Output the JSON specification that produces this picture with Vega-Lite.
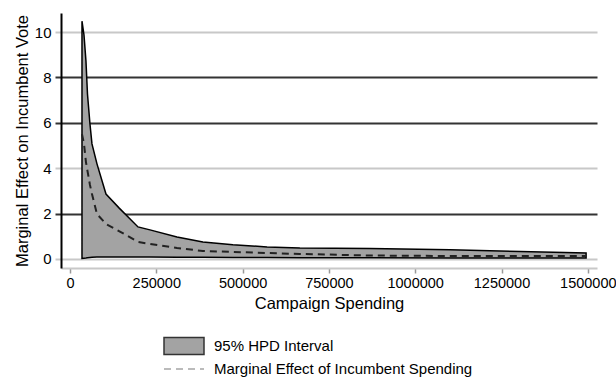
{
  "$schema": "https://vega.github.io/schema/vega-lite/v6.json",
  "width": 536,
  "height": 255,
  "autosize": {"type": "none"},
  "padding": {"left": 61, "top": 13, "right": 19, "bottom": 109},
  "background": "white",
  "config": {"view": {"stroke": null}, "font": "Liberation Sans"},
  "data": {
    "values": [
      {"s": 34800, "lo": 0.02, "me": 5.5, "hi": 10.48},
      {"s": 40600, "lo": 0.03, "me": 5.07, "hi": 9.87},
      {"s": 46300, "lo": 0.04, "me": 4.27, "hi": 8.72},
      {"s": 50700, "lo": 0.05, "me": 3.88, "hi": 7.27},
      {"s": 57900, "lo": 0.06, "me": 3.26, "hi": 5.95},
      {"s": 63700, "lo": 0.07, "me": 2.86, "hi": 5.07},
      {"s": 78200, "lo": 0.08, "me": 1.98, "hi": 4.19},
      {"s": 104300, "lo": 0.09, "me": 1.54, "hi": 2.86},
      {"s": 142000, "lo": 0.09, "me": 1.23, "hi": 2.25},
      {"s": 197000, "lo": 0.08, "me": 0.75, "hi": 1.41},
      {"s": 231700, "lo": 0.08, "me": 0.66, "hi": 1.28},
      {"s": 310000, "lo": 0.07, "me": 0.48, "hi": 0.97},
      {"s": 385000, "lo": 0.07, "me": 0.35, "hi": 0.75},
      {"s": 472000, "lo": 0.06, "me": 0.31, "hi": 0.62},
      {"s": 571000, "lo": 0.06, "me": 0.26, "hi": 0.53},
      {"s": 666000, "lo": 0.05, "me": 0.22, "hi": 0.48},
      {"s": 869000, "lo": 0.05, "me": 0.15, "hi": 0.46},
      {"s": 1101000, "lo": 0.04, "me": 0.13, "hi": 0.40},
      {"s": 1304000, "lo": 0.04, "me": 0.13, "hi": 0.33},
      {"s": 1495000, "lo": 0.04, "me": 0.13, "hi": 0.26}
    ]
  },
  "encoding": {
    "x": {
      "field": "s",
      "type": "quantitative",
      "scale": {"domain": [-26000, 1526600], "nice": false, "zero": false},
      "axis": {
        "title": "Campaign Spending",
        "values": [0, 250000, 500000, 750000, 1000000, 1250000, 1500000],
        "format": "d",
        "grid": false,
        "domainColor": "#c8c8c8",
        "domainWidth": 2,
        "tickColor": "#999",
        "tickSize": 5,
        "tickWidth": 1.5,
        "labelFontSize": 14.5,
        "labelPadding": 3,
        "labelColor": "#000",
        "labelFlush": false,
        "labelOverlap": false,
        "titleFontSize": 16.5,
        "titleFontWeight": "normal",
        "titleColor": "#000",
        "titlePadding": 6
      }
    }
  },
  "layer": [
    {
      "mark": {"type": "area", "stroke": "#000", "strokeWidth": 1.5},
      "encoding": {
        "y": {
          "field": "hi",
          "type": "quantitative",
          "scale": {"domain": [-0.4, 10.84], "nice": false, "zero": false},
          "axis": {
            "title": "Marginal Effect on Incumbent Vote",
            "values": [0, 2, 4, 6, 8, 10],
            "grid": true,
            "gridColor": {"condition": {"test": "datum.value == 2 || datum.value == 6 || datum.value == 8", "value": "#333"}, "value": "#c8c8c8"},
            "gridWidth": 2,
            "domainColor": "#000",
            "domainWidth": 2,
            "tickColor": {"condition": {"test": "datum.value == 2 || datum.value == 6 || datum.value == 8", "value": "#333"}, "value": "#c8c8c8"},
            "tickWidth": 2,
            "tickSize": 6,
            "labelFontSize": 15,
            "labelColor": "#000",
            "labelPadding": 4,
            "titleFontSize": 16.5,
            "titleFontWeight": "normal",
            "titleColor": "#000",
            "titlePadding": 4
          }
        },
        "y2": {"field": "lo"},
        "fill": {
          "datum": "95% HPD Interval",
          "type": "nominal",
          "scale": {"range": ["#a3a3a3"]},
          "legend": {
            "orient": "none",
            "legendX": 102,
            "legendY": 312,
            "title": null,
            "symbolType": "M-1,-0.42H1V0.42H-1Z",
            "symbolSize": 1600,
            "symbolStrokeColor": "#333",
            "symbolStrokeWidth": 1.5,
            "symbolOpacity": 1,
            "labelFontSize": 15,
            "labelOffset": 9,
            "labelLimit": 0,
            "labelColor": "#000"
          }
        }
      }
    },
    {
      "mark": {"type": "line", "stroke": "#222", "strokeWidth": 2},
      "encoding": {
        "y": {"field": "me", "type": "quantitative"},
        "strokeDash": {
          "datum": "Marginal Effect of Incumbent Spending",
          "type": "nominal",
          "scale": {"range": [[7, 5]]},
          "legend": {
            "orient": "none",
            "legendX": 102,
            "legendY": 335,
            "title": null,
            "symbolType": "stroke",
            "symbolSize": 1600,
            "symbolStrokeColor": "#bbb",
            "symbolStrokeWidth": 2,
            "labelFontSize": 15,
            "labelOffset": 9,
            "labelLimit": 0,
            "labelColor": "#000"
          }
        }
      }
    }
  ]
}
